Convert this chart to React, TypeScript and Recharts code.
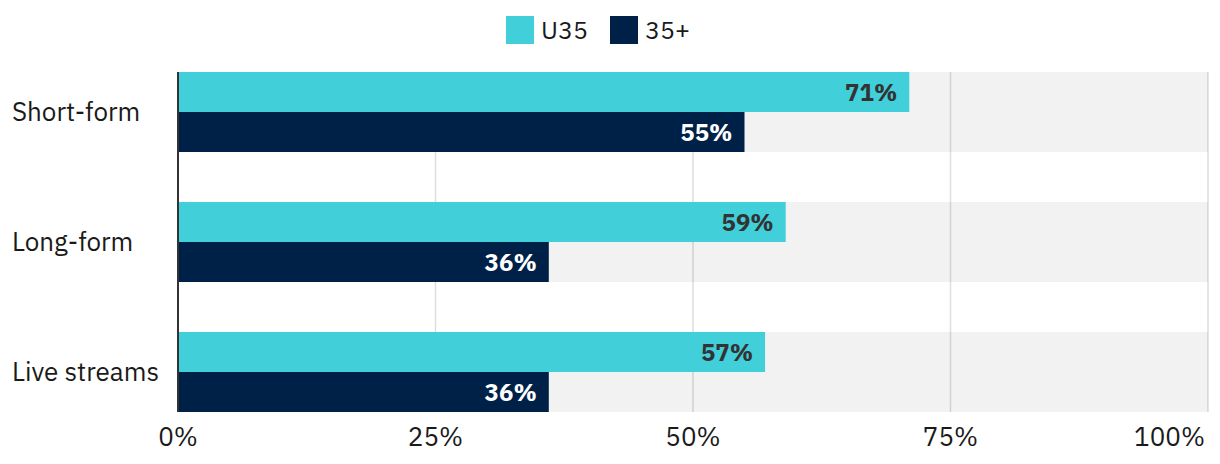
import React from "react";
import {
    BarChart,
    Bar,
    XAxis,
    YAxis,
    CartesianGrid,
    Legend,
    LabelList,
} from "recharts";

const categories = ["Short-form", "Long-form", "Live streams"];
const u35 = [71, 59, 57];
const over35 = [55, 36, 36];
const xTicks = [0, 25, 50, 75, 100];
const seriesNames = ["U35", "35+"];
const seriesColors = ["#41CFDA", "#002147"];

const data = categories.map((name, i) => ({ name, u35: u35[i], over35: over35[i] }));

const FONT = "'IBM Plex Sans', 'Open Sans', sans-serif";

const CategoryTick = (props: any) => {
    const { y, payload } = props;
    return (
        <text x={12} y={y} dy="0.35em" textAnchor="start" fontSize={26} fill="#1a1a1a" fontFamily={FONT}>
            {payload.value}
        </text>
    );
};

const PercentTick = (props: any) => {
    const { x, y, payload, index } = props;
    const last = index === xTicks.length - 1;
    return (
        <text
            x={last ? x - 3 : x}
            y={y}
            dy="0.71em"
            textAnchor={last ? "end" : "middle"}
            fontSize={26}
            fill="#1a1a1a"
            fontFamily={FONT}
        >
            {`${payload.value}%`}
        </text>
    );
};

const LegendContent = () => (
    <div
        style={{
            display: "flex",
            justifyContent: "center",
            alignItems: "center",
            paddingRight: 20,
            fontFamily: FONT,
            fontSize: 25,
            color: "#1a1a1a",
        }}
    >
        {seriesNames.map((n, i) => (
            <div key={n} style={{ display: "flex", alignItems: "center", marginRight: i === 0 ? 22 : 0 }}>
                <div style={{ width: 28, height: 28, background: seriesColors[i], marginRight: 7 }} />
                <span>{n}</span>
            </div>
        ))}
    </div>
);

export default function App() {
    return (
        <div style={{ position: "absolute", left: 0, top: 0, background: "#fff" }}>
            <BarChart
                width={1220}
                height={464}
                data={data}
                layout="vertical"
                barCategoryGap={25}
                barGap={0}
                margin={{ top: 24, right: 12, left: 8, bottom: 0 }}
            >
                <CartesianGrid horizontal={false} stroke="#dddddd" strokeWidth={1.5} />
                <XAxis
                    type="number"
                    domain={[0, 100]}
                    ticks={xTicks}
                    axisLine={false}
                    tickLine={false}
                    tickSize={0}
                    tickMargin={16}
                    height={52}
                    tick={<PercentTick />}
                />
                <YAxis
                    type="category"
                    dataKey="name"
                    width={170}
                    padding={{ top: -25, bottom: -25 }}
                    axisLine={{ stroke: "#333333", strokeWidth: 2 }}
                    tickLine={false}
                    tick={<CategoryTick />}
                />
                <Legend
                    verticalAlign="top"
                    align="center"
                    height={48}
                    wrapperStyle={{ top: 13 }}
                    content={<LegendContent />}
                />
                <Bar
                    dataKey="u35"
                    name={seriesNames[0]}
                    fill={seriesColors[0]}
                    barSize={40}
                    background={{ fill: "rgba(0,0,0,0.05)" }}
                    isAnimationActive={false}
                >
                    <LabelList
                        dataKey="u35"
                        position="insideRight"
                        offset={12}
                        formatter={(v: any) => `${v}%`}
                        style={{ fill: "#333333", fontSize: 24, fontWeight: 700, fontFamily: FONT }}
                    />
                </Bar>
                <Bar
                    dataKey="over35"
                    name={seriesNames[1]}
                    fill={seriesColors[1]}
                    barSize={40}
                    background={{ fill: "rgba(0,0,0,0.05)" }}
                    isAnimationActive={false}
                >
                    <LabelList
                        dataKey="over35"
                        position="insideRight"
                        offset={12}
                        formatter={(v: any) => `${v}%`}
                        style={{ fill: "#ffffff", fontSize: 24, fontWeight: 700, fontFamily: FONT }}
                    />
                </Bar>
            </BarChart>
        </div>
    );
}
